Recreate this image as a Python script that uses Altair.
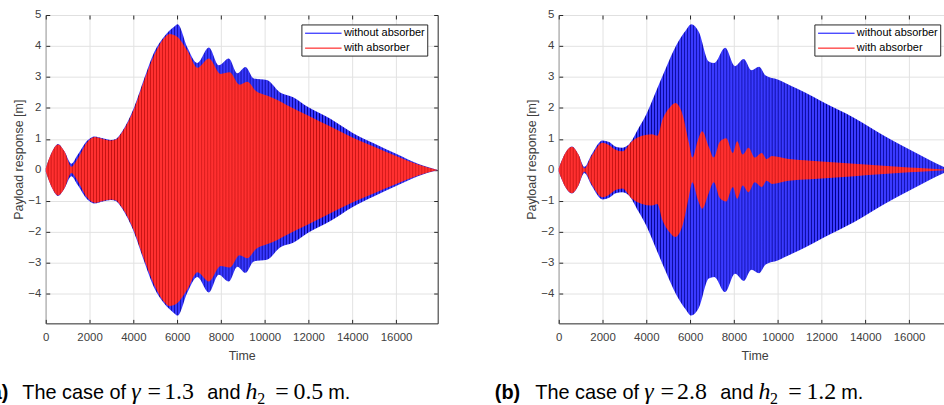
import altair as alt
import pandas as pd

# ---------------- data ----------------
time_ticks = [0, 2000, 4000, 6000, 8000, 10000, 12000, 14000, 16000]
resp_ticks = [-4, -3, -2, -1, 0, 1, 2, 3, 4, 5]
series_names = ["without absorber", "with absorber"]

# envelope (peak amplitude, m) of each response, panel (a)
t_blue_a = [0, 300, 560, 850, 1170, 1450, 1900, 2230, 2600, 2980, 3200, 3450, 3750, 4050, 4500, 4950,
            5400, 5860, 6020, 6470, 6920, 7450, 7900, 8360, 8750, 9120, 9500, 10100, 10700, 11300,
            12000, 13000, 14000, 15000, 16000, 17000, 17900]
amp_blue_a = [0.05, 0.6, 0.84, 0.6, 0.2, 0.48, 0.95, 1.08, 1.02, 0.97, 1.0, 1.2, 1.57, 2.05, 2.96, 3.8,
              4.3, 4.62, 4.7, 3.95, 3.45, 3.95, 3.38, 3.6, 3.12, 3.32, 2.95, 2.9, 2.5, 2.35,
              2.02, 1.65, 1.2, 0.85, 0.52, 0.2, 0.0]
t_red_a = [0, 300, 560, 850, 1170, 1450, 1900, 2230, 2600, 2980, 3200, 3450, 3750, 4050, 4500, 4950,
           5400, 5650, 6000, 6470, 6930, 7450, 7990, 8400, 8850, 9200, 9600, 10100, 10600, 11000,
           12000, 13000, 14000, 15000, 16000, 17000, 17900]
amp_red_a = [0.05, 0.6, 0.82, 0.6, 0.1, 0.35, 0.9, 1.06, 1.0, 0.95, 0.98, 1.18, 1.53, 2.0, 2.9, 3.7,
             4.25, 4.39, 4.3, 3.85, 3.3, 3.6, 3.1, 3.15, 2.75, 2.85, 2.55, 2.4, 2.25, 2.1,
             1.75, 1.4, 1.05, 0.75, 0.45, 0.18, 0.0]

# panel (b)
t_blue_b = [0, 300, 600, 900, 1170, 1500, 2000, 2300, 2600, 2900, 3200, 3650, 4000, 4450, 4900, 5350,
            5800, 6050, 6400, 6850, 7100, 7600, 8050, 8450, 8800, 9150, 9450, 10000, 10650, 11250,
            12000, 13500, 15000, 16000, 17000, 17900]
amp_blue_b = [0.05, 0.55, 0.76, 0.5, 0.1, 0.5, 0.95, 0.9, 0.75, 0.72, 0.82, 1.35, 1.8, 2.55, 3.3, 4.0,
              4.5, 4.7, 4.45, 3.5, 3.45, 3.94, 3.35, 3.58, 3.22, 3.33, 3.05, 2.92, 2.7, 2.5,
              2.22, 1.68, 1.05, 0.67, 0.3, 0.0]
t_red_b = [0, 300, 600, 900, 1170, 1500, 2000, 2300, 2600, 2900, 3350, 3800, 4250, 4500, 4750, 5050,
           5330, 5650, 5950, 6100, 6350, 6550, 6850, 7080, 7350, 7650, 7950, 8150, 8400, 8670,
           8950, 9270, 9500, 9730, 10500, 11500, 12500, 13500, 14500, 15500, 16500, 17900]
amp_red_b = [0.05, 0.55, 0.75, 0.5, 0.05, 0.45, 0.88, 0.8, 0.65, 0.6, 0.93, 1.1, 1.15, 1.1, 1.65, 2.0,
             2.16, 1.8, 0.85, 0.4, 0.95, 1.25, 0.75, 0.4, 0.9, 1.02, 0.55, 0.93, 0.5, 0.72,
             0.4, 0.55, 0.35, 0.45, 0.35, 0.3, 0.25, 0.2, 0.15, 0.1, 0.06, 0.0]

caption_a = ["(a)", "The case of", "γ", "=", "1.3", "and", "h", "2", "=", "0.5", "m."]
caption_b = ["(b)", "The case of", "γ", "=", "2.8", "and", "h", "2", "=", "1.2", "m."]

# ---------------- layout / style ----------------
W, H = 394, 310
X_DOMAIN = [0, 17900]
Y_DOMAIN = [-4.95, 5]
SANS = "Liberation Sans"
SERIF = "Liberation Serif"
INK = "#262626"
BLUE_LIGHT, BLUE_DARK = "#3a3aff", "#00008a"
RED_LIGHT, RED_DARK = "#ff3030", "#c01010"
LINE_COLORS = ["#0000ff", "#ff0000"]

xs = alt.Scale(domain=X_DOMAIN, nice=False, zero=False)
ys = alt.Scale(domain=Y_DOMAIN, nice=False, zero=False)
one = pd.DataFrame({"k": [0]})


def stripes(light, dark, n=130):
    stops = []
    for k in range(n):
        stops.append(alt.GradientStop(offset=round(k / n, 6), color=light))
        stops.append(alt.GradientStop(offset=round((k + 0.5) / n, 6), color=light))
        stops.append(alt.GradientStop(offset=round((k + 0.8) / n, 6), color=dark))
    stops.append(alt.GradientStop(offset=1, color=light))
    return alt.LinearGradient(gradient="linear", stops=stops, x1=0, x2=1, y1=0, y2=0)


ax_x_main = alt.Axis(values=time_ticks, orient="bottom", title="Time", grid=True, ticks=False,
                     tickSize=0, domain=False, labelPadding=8, labelFontSize=11.5,
                     titleFontSize=12.5, titleX=W / 2, titleY=32, titleBaseline="middle",
                     labelFlush=False, labelOverlap=False, format="d")
ax_y_main = alt.Axis(values=resp_ticks, orient="left", title="Payload response [m]", grid=True,
                     ticks=False, tickSize=0, domain=False, labelPadding=5, labelFontSize=11.5,
                     titleFontSize=12.5, titleX=-27, titleY=145, titleAngle=270,
                     titleBaseline="middle", titleAlign="center", labelFlush=False,
                     labelOverlap=False)


def tick_axis(values, orient, offset):
    return alt.Axis(values=values, orient=orient, offset=offset, labels=False, grid=False,
                    domain=False, ticks=True, tickSize=4, tickColor=INK, title=None)


def band(t, amp, grad, xaxis, yaxis):
    df = pd.DataFrame({"t": t, "amp": amp})
    return (alt.Chart(df)
            .transform_calculate(low="-datum.amp")
            .mark_area(color=grad, interpolate="monotone")
            .encode(x=alt.X("t:Q", scale=xs, axis=xaxis),
                    y=alt.Y("amp:Q", scale=ys, axis=yaxis),
                    y2="low:Q"))


def text_piece(s, x, y, font, size, weight="normal", style="normal"):
    return alt.Chart(one).mark_text(text=s, align="left", baseline="alphabetic", font=font,
                                    fontSize=size, fontWeight=weight, fontStyle=style,
                                    color="black").encode(x=alt.value(x), y=alt.value(y))


def panel(tb, ab, tr, ar, caption, label_x):
    blue = band(tb, ab, stripes(BLUE_LIGHT, BLUE_DARK), ax_x_main, ax_y_main)
    red = band(tr, ar, stripes(RED_LIGHT, RED_DARK),
               tick_axis(time_ticks, "bottom", -H), tick_axis(resp_ticks, "left", -W))
    ghost = (alt.Chart(pd.DataFrame({"t": tb, "amp": ab})).mark_point(opacity=0)
             .encode(x=alt.X("t:Q", scale=xs, axis=tick_axis(time_ticks, "top", -H)),
                     y=alt.Y("amp:Q", scale=ys, axis=tick_axis(resp_ticks, "right", -W))))
    box = alt.Chart(one).mark_rect(fill="white", stroke=INK, strokeWidth=1).encode(
        x=alt.value(257.5), x2=alt.value(384), y=alt.value(10), y2=alt.value(41.3))
    legend = [box]
    for i, name in enumerate(series_names):
        yy = 18.3 + 15 * i
        legend.append(alt.Chart(one).mark_rule(color=LINE_COLORS[i], strokeWidth=1).encode(
            x=alt.value(260.7), x2=alt.value(297.4), y=alt.value(yy)))
        legend.append(alt.Chart(one).mark_text(text=name, align="left", baseline="middle",
                                               font=SANS, fontSize=11, color="black")
                      .encode(x=alt.value(299.7), y=alt.value(yy)))
    base = 386.3
    cap = [
        text_piece(caption[0], label_x, base, SANS, 20, weight="bold"),
        text_piece(caption[1], -23.6, base, SANS, 20),
        text_piece(caption[2], 86, base, SERIF, 24, style="italic"),
        text_piece(caption[3], 102.4, base, SERIF, 24),
        text_piece(caption[4], 119, base, SERIF, 24),
        text_piece(caption[5], 162.4, base, SANS, 20),
        text_piece(caption[6], 200.7, base, SERIF, 24, style="italic"),
        text_piece(caption[7], 212.5, base + 4.5, SERIF, 16),
        text_piece(caption[8], 230.7, base, SERIF, 24),
        text_piece(caption[9], 249, base, SERIF, 24),
        text_piece(caption[10], 284, base, SANS, 20),
    ]
    return (alt.layer(blue, red, ghost, *legend, *cap)
            .resolve_axis(x="independent", y="independent")
            .properties(width=W, height=H))


pa = panel(t_blue_a, amp_blue_a, t_red_a, amp_red_a, caption_a, -62)
pb = panel(t_blue_b, amp_blue_b, t_red_b, amp_red_b, caption_b, -64.3)

chart = (alt.hconcat(pa, pb, spacing=121.7, bounds="flush")
         .properties(padding={"left": -17, "right": -10, "top": 7, "bottom": 0},
                     background="white")
         .configure_view(stroke=INK, strokeWidth=1)
         .configure_axis(labelFont=SANS, titleFont=SANS, labelColor="#404040",
                         titleColor="#404040", titleFontWeight="normal",
                         gridColor="#e2e2e2", gridWidth=1))

chart.save("out.html", embed_options={"renderer": "svg", "actions": False})
